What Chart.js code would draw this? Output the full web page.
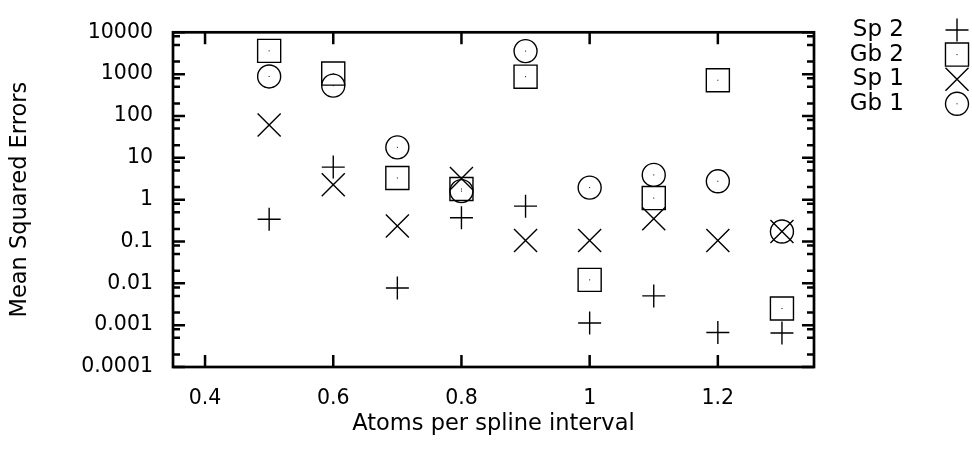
<!DOCTYPE html>
<html>
<head>
<meta charset="utf-8">
<script src="https://cdn.jsdelivr.net/npm/chart.js@4"></script>
<style>
  html, body { margin: 0; padding: 0; background: #fff; }
  #wrap { width: 972px; height: 450px; }
</style>
</head>
<body>
<div id="wrap"><canvas id="errChart" width="972" height="450"></canvas></div>
<script>
// atoms per spline interval
const xValues = [0.5, 0.6, 0.7, 0.8, 0.9, 1.0, 1.1, 1.2, 1.3];
// mean squared errors per series
const sp2 = [0.34, 6.0, 0.0077, 0.37, 0.70, 0.00113, 0.0050, 0.00067, 0.00065];
const gb2 = [3600, 1030, 3.3, 1.8, 870, 0.0121, 1.09, 715, 0.0025];
const sp1 = [61, 2.27, 0.234, 3.2, 0.106, 0.106, 0.348, 0.106, 0.173];
const gb1 = [880, 530, 17.8, 1.6, 3550, 1.94, 3.9, 2.75, 0.173];

const seriesLabels = ['Sp 2', 'Gb 2', 'Sp 1', 'Gb 1'];
const xTicks = [0.4, 0.6, 0.8, 1, 1.2];
const yTicks = [0.0001, 0.001, 0.01, 0.1, 1, 10, 100, 1000, 10000];
const minorFactors = [2, 5, 8];

const FONT = '"DejaVu Sans", "Liberation Sans", Arial, sans-serif';
Chart.defaults.font.family = FONT;
Chart.defaults.color = '#000';

const toPoints = arr => arr.map((v, i) => ({ x: xValues[i], y: v }));

const styles = [
    { pointStyle: 'cross', radius: 11.5 },
    { pointStyle: 'rect', radius: 16.3 },
    { pointStyle: 'crossRot', radius: 16.3 },
    { pointStyle: 'circle', radius: 11.5 },
];

const datasets = [sp2, gb2, sp1, gb1].map((vals, i) => ({
    label: seriesLabels[i],
    data: toPoints(vals),
    pointStyle: styles[i].pointStyle,
    pointRadius: styles[i].radius,
    pointHoverRadius: styles[i].radius,
    borderColor: '#000',
    backgroundColor: 'rgba(0,0,0,0)',
    borderWidth: 1.4,
    showLine: false,
}));

// gnuplot-style frame with inward ticks, center dots, and legend on the right
const framePlugin = {
    id: 'frame',
    afterDatasetsDraw(chart) {
        const { ctx, chartArea: a, scales: { x, y } } = chart;
        ctx.save();
        ctx.strokeStyle = '#000';
        ctx.lineWidth = 2.5;
        ctx.beginPath();
        yTicks.forEach((v, i) => {
            const py = y.getPixelForValue(v);
            ctx.moveTo(a.left, py); ctx.lineTo(a.left + 12, py);
            ctx.moveTo(a.right, py); ctx.lineTo(a.right - 12, py);
            if (i < yTicks.length - 1) {
                minorFactors.forEach(f => {
                    const my = y.getPixelForValue(v * f);
                    ctx.moveTo(a.left, my); ctx.lineTo(a.left + 7, my);
                    ctx.moveTo(a.right, my); ctx.lineTo(a.right - 7, my);
                });
            }
        });
        xTicks.forEach(v => {
            const px = x.getPixelForValue(v);
            ctx.moveTo(px, a.bottom); ctx.lineTo(px, a.bottom - 12);
            ctx.moveTo(px, a.top); ctx.lineTo(px, a.top + 12);
        });
        ctx.stroke();
        ctx.lineWidth = 2.7;
        ctx.strokeRect(a.left, a.top, a.right - a.left, a.bottom - a.top);

        // small dot in the middle of squares and circles
        ctx.fillStyle = '#000';
        [1, 3].forEach(i => {
            chart.getDatasetMeta(i).data.forEach(el => {
                ctx.fillRect(el.x - 0.5, el.y - 0.5, 1, 1);
            });
        });

        // legend: text right aligned, symbol to the right
        ctx.font = '23px ' + FONT;
        ctx.textAlign = 'right';
        ctx.textBaseline = 'middle';
        chart.data.datasets.forEach((ds, i) => {
            const ly = 30 + i * 24.6;
            const lx = 957;
            ctx.fillStyle = '#000';
            ctx.fillText(ds.label, 904, ly);
            if (i === 1 || i === 3) ctx.fillRect(lx - 0.5, ly - 0.5, 1, 1);
            ctx.fillStyle = 'rgba(0,0,0,0)';
            ctx.strokeStyle = '#000';
            ctx.lineWidth = 1.4;
            Chart.helpers.drawPoint(ctx, { pointStyle: ds.pointStyle, radius: ds.pointRadius, rotation: 0, borderWidth: 1.4 }, lx, ly);
        });
        ctx.restore();
    }
};

new Chart(document.getElementById('errChart'), {
    type: 'scatter',
    data: { datasets },
    options: {
        responsive: false,
        animation: false,
        layout: { padding: { left: 0, right: 158, top: 16, bottom: 0 } },
        plugins: {
            legend: { display: false },
            tooltip: { enabled: false },
        },
        scales: {
            x: {
                type: 'linear',
                min: 0.35,
                max: 1.35,
                afterBuildTicks: s => { s.ticks = xTicks.map(v => ({ value: v })); },
                afterFit: s => { s.height = 83; },
                grid: { display: false, drawTicks: false },
                border: { display: false },
                ticks: {
                    padding: 19,
                    font: { size: 20.5 },
                    callback: v => String(Math.round(v * 10) / 10),
                },
                title: {
                    display: true,
                    text: 'Atoms per spline interval',
                    font: { size: 22.5 },
                    padding: { top: 0, bottom: 12 },
                },
            },
            y: {
                type: 'logarithmic',
                min: 0.0001,
                max: 10000,
                afterBuildTicks: s => { s.ticks = yTicks.map(v => ({ value: v })); },
                afterFit: s => { s.width = 173; },
                grid: { display: false, drawTicks: false },
                border: { display: false },
                ticks: {
                    padding: 20,
                    font: { size: 20.5 },
                    callback: v => String(v),
                },
                title: {
                    display: true,
                    text: 'Mean Squared Errors',
                    font: { size: 22.5 },
                    padding: { top: 7, bottom: 0 },
                },
            },
        },
    },
    plugins: [framePlugin],
});
</script>
</body>
</html>
